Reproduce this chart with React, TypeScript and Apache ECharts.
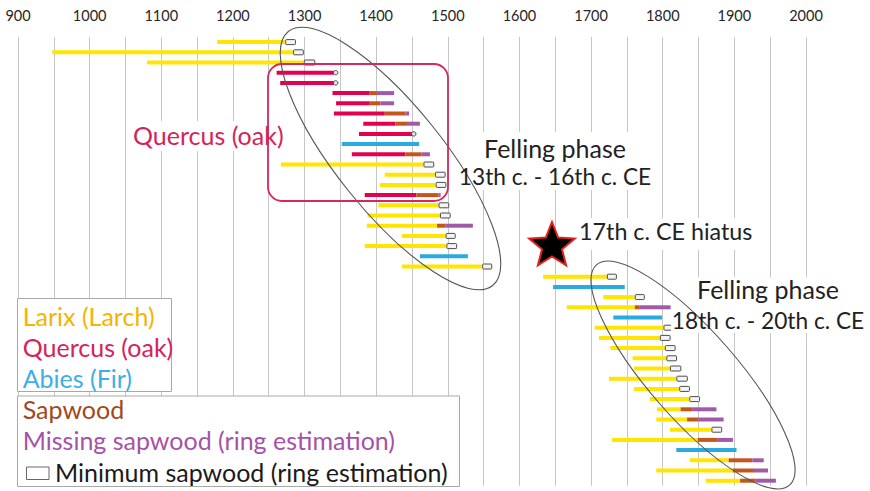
import React, { useEffect, useRef } from "react";
import * as echarts from "echarts";

// Year axis tick labels (every 100 years, grid every 50)
const yearTicks = [900, 1000, 1100, 1200, 1300, 1400, 1500, 1600, 1700, 1800, 1900, 2000];

// One entry per dated timber, top to bottom. L = Larix, Q = Quercus, A = Abies
const species = [
  "L", "L", "L", "Q", "Q", "Q", "Q", "Q", "Q", "Q",
  "A", "Q", "L", "L", "L", "Q", "L", "L", "L", "L",
  "L", "A", "L", "L", "A", "L", "L", "A", "L", "L",
  "L", "L", "L", "L", "L", "L", "L", "L", "L", "L",
  "A", "L", "L", "L",
];
const startYear = [
  1178, 948, 1080, 1261, 1266, 1339, 1344, 1341, 1382, 1376,
  1352, 1366, 1267, 1412, 1405, 1384, 1403, 1388, 1387, 1436,
  1384, 1461, 1436, 1633, 1647, 1717, 1666, 1731, 1705, 1711,
  1727, 1758, 1760, 1725, 1760, 1782, 1792, 1791, 1810, 1729,
  1819, 1838, 1791, 1860,
];
const heartwoodEnd = [
  1273, 1284, 1299, 1341, 1341, 1391, 1390, 1412, 1427, 1450,
  1460, 1441, 1466, 1482, 1483, 1456, 1487, 1489, 1485, 1497,
  1498, 1528, 1548, 1722, 1747, 1761, 1761, 1799, 1801, 1796,
  1803, 1805, 1810, 1819, 1823, 1837, 1825, 1834, 1868, 1849,
  1903, 1892, 1898, 1908,
];
const sapwoodEnd = [
  null, null, null, null, null, 1401, 1406, 1441, 1443, null,
  null, 1463, null, null, null, 1487, null, null, 1497, null,
  null, null, null, null, null, null, 1768, null, null, null,
  null, null, null, null, null, null, 1841, 1850, null, 1877,
  null, 1925, 1926, 1929,
];
const missingSapwoodEnd = [
  null, null, null, null, null, 1425, 1425, 1446, 1461, null,
  null, 1475, null, null, null, 1490, null, null, 1535, null,
  null, null, null, null, null, null, 1811, null, null, null,
  null, null, null, null, null, null, 1875, 1885, null, 1898,
  null, 1941, 1947, 1958,
];
const minimumSapwoodEnd = [
  1288, 1299, 1315, 1346, 1346, null, null, null, null, 1455,
  null, null, 1481, 1497, 1498, null, 1502, 1504, null, 1511,
  1513, null, 1562, 1736, null, 1775, null, null, 1816, 1811,
  1818, 1820, 1826, 1835, 1838, 1852, null, null, 1883, null,
  null, null, null, null,
];

const sampleIds = species.map((_, i) => `T${i + 1}`);

const SPECIES_COLOR: Record<string, string> = {
  L: "#FFE500",
  Q: "#E4004F",
  A: "#29ABE2",
};
const SAPWOOD_COLOR = "#C4561C";
const MISSING_COLOR = "#A05AA8";
const FONT = "Lato";

function starPoints(cx: number, cy: number, R: number, r: number) {
  const pts: number[][] = [];
  for (let i = 0; i < 10; i++) {
    const rad = i % 2 === 0 ? R : r;
    const a = -Math.PI / 2 + (i * Math.PI) / 5;
    pts.push([cx + rad * Math.cos(a), cy + rad * Math.sin(a)]);
  }
  return pts;
}

function segmentSeries(name: string, data: number[][], colorFn: (row: number) => string, h: number) {
  return {
    type: "custom",
    name,
    encode: { x: [0, 1], y: 2 },
    data,
    z: 3,
    renderItem: (params: any, api: any) => {
      const row = api.value(2);
      const p0 = api.coord([api.value(0), row]);
      const p1 = api.coord([api.value(1), row]);
      return {
        type: "rect",
        shape: { x: p0[0], y: p0[1] - h / 2, width: p1[0] - p0[0], height: h },
        style: { fill: colorFn(row) },
      };
    },
  };
}

export default function App() {
  const ref = useRef<HTMLDivElement>(null);

  useEffect(() => {
    if (!ref.current) return;
    const chart = echarts.init(ref.current, undefined, { renderer: "svg" });

    const heartData: number[][] = [];
    const sapData: number[][] = [];
    const missData: number[][] = [];
    const boxData: number[][] = [];
    species.forEach((sp, i) => {
      heartData.push([startYear[i], heartwoodEnd[i], i]);
      const s = sapwoodEnd[i];
      const m = missingSapwoodEnd[i];
      const b = minimumSapwoodEnd[i];
      if (s != null) sapData.push([heartwoodEnd[i], s, i]);
      if (m != null) missData.push([s != null ? s : heartwoodEnd[i], m, i]);
      if (b != null) boxData.push([heartwoodEnd[i], b, i]);
    });

    const txt = (x: number, y: number, text: string, fill: string, size = 25, align = "left") => ({
      type: "text",
      x,
      y,
      z: 30,
      style: { text, fill, fontSize: size, fontFamily: FONT, align, verticalAlign: "middle" },
    });
    const whiteRect = (x: number, y: number, w: number, h: number) => ({
      type: "rect",
      z: 15,
      shape: { x, y, width: w, height: h },
      style: { fill: "#ffffff" },
    });

    chart.setOption({
      animation: false,
      grid: { left: 18, right: 64, top: 37, bottom: 5.2, containLabel: false },
      xAxis: {
        type: "value",
        position: "top",
        min: 900,
        max: 2000,
        interval: 50,
        axisLine: { show: false },
        axisTick: { show: false },
        axisLabel: {
          margin: 14,
          showMinLabel: true,
          showMaxLabel: true,
          color: "#262626",
          fontSize: 14.5,
          fontFamily: FONT,
          formatter: (v: number) => (yearTicks.indexOf(v) >= 0 ? String(v) : ""),
        },
        splitLine: { show: true, lineStyle: { color: "#c6c6c6", width: 1 } },
      },
      yAxis: {
        type: "category",
        inverse: true,
        data: sampleIds,
        axisLine: { show: false },
        axisTick: { show: false },
        axisLabel: { show: false },
        splitLine: { show: false },
      },
      series: [
        segmentSeries("Heartwood", heartData, (r) => SPECIES_COLOR[species[r]], 4),
        segmentSeries("Sapwood", sapData, () => SAPWOOD_COLOR, 4),
        segmentSeries("Missing sapwood", missData, () => MISSING_COLOR, 4),
        {
          type: "custom",
          name: "Minimum sapwood",
          encode: { x: [0, 1], y: 2 },
          data: boxData,
          z: 4,
          renderItem: (params: any, api: any) => {
            const row = api.value(2);
            const p0 = api.coord([api.value(0), row]);
            const p1 = api.coord([api.value(1), row]);
            if (species[row] === "Q") {
              return {
                type: "circle",
                shape: { cx: (p0[0] + p1[0]) / 2, cy: p0[1], r: 2.2 },
                style: { fill: "#e8e8e8", stroke: "#4d4d4d", lineWidth: 1 },
              };
            }
            return {
              type: "rect",
              shape: { x: p0[0] + 0.5, y: p0[1] - 2.5, width: p1[0] - p0[0] - 1, height: 5, r: 0.8 },
              style: { fill: "#f4f4f4", stroke: "#4d4d4d", lineWidth: 1 },
            };
          },
        },
      ],
      graphic: {
        elements: [
          // felling phase ellipses
          {
            type: "ellipse",
            x: 390.5,
            y: 158.5,
            rotation: (-51.2 * Math.PI) / 180,
            z: 20,
            shape: { cx: 0, cy: 0, rx: 163, ry: 53 },
            style: { fill: "none", stroke: "#555", lineWidth: 1.1 },
          },
          {
            type: "ellipse",
            x: 693,
            y: 375,
            rotation: (-48.8 * Math.PI) / 180,
            z: 20,
            shape: { cx: 0, cy: 0, rx: 146.5, ry: 44 },
            style: { fill: "none", stroke: "#555", lineWidth: 1.1 },
          },
          // Quercus group
          whiteRect(130, 121, 136, 30),
          {
            type: "rect",
            z: 20,
            shape: { x: 268, y: 64, width: 180, height: 137, r: 14 },
            style: { fill: "none", stroke: "#D7285E", lineWidth: 1.8 },
          },
          txt(133, 135, "Quercus (oak)", "#D4235A"),
          // felling phase labels
          whiteRect(455, 132, 202, 58),
          txt(555, 147.5, "Felling phase", "#222", 25, "center"),
          txt(555, 176.5, "13th c. - 16th c. CE", "#222", 22.7, "center"),
          whiteRect(575, 218, 182, 32),
          txt(579, 230.5, "17th c. CE hiatus", "#222", 23.3),
          whiteRect(671, 277, 196, 56),
          txt(768, 288.5, "Felling phase", "#222", 25, "center"),
          txt(768, 320, "18th c. - 20th c. CE", "#222", 22.7, "center"),
          // star
          {
            type: "polygon",
            z: 25,
            shape: { points: starPoints(552, 246, 24, 10.5) },
            style: { fill: "#000", stroke: "#E3231B", lineWidth: 2 },
          },
          // legend boxes
          {
            type: "rect",
            z: 16,
            shape: { x: 17.5, y: 298.5, width: 154, height: 93 },
            style: { fill: "#fff", stroke: "#a8a8a8", lineWidth: 1 },
          },
          txt(22.7, 316.2, "Larix (Larch)", "#F5B400"),
          txt(22.7, 347, "Quercus (oak)", "#D4235A"),
          txt(22.7, 377.7, "Abies (Fir)", "#3DAEE6"),
          {
            type: "rect",
            z: 16,
            shape: { x: 17.5, y: 396, width: 442, height: 90.5 },
            style: { fill: "#fff", stroke: "#a8a8a8", lineWidth: 1 },
          },
          txt(22.7, 409.3, "Sapwood", "#A0491C"),
          txt(22.7, 440, "Missing sapwood (ring estimation)", "#A552A8"),
          {
            type: "rect",
            z: 30,
            shape: { x: 26.5, y: 467, width: 22.5, height: 12.5 },
            style: { fill: "#fff", stroke: "#666", lineWidth: 1 },
          },
          txt(55, 471.7, "Minimum sapwood (ring estimation)", "#1a1a1a"),
        ],
      },
    });

    return () => chart.dispose();
  }, []);

  return (
    <div
      ref={ref}
      style={{ position: "absolute", left: 0, top: 0, width: 870, height: 491, background: "#fff" }}
    />
  );
}
